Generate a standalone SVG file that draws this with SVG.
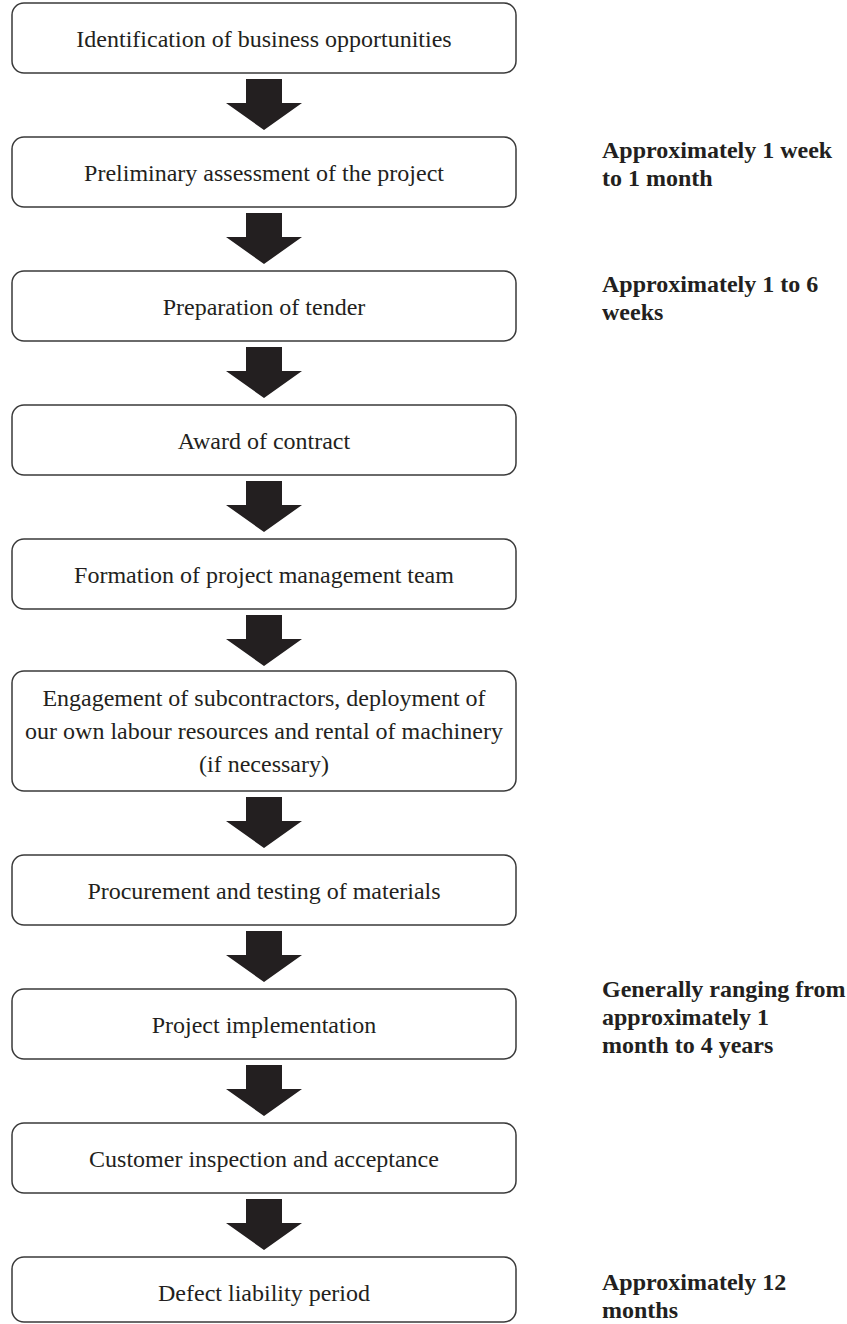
<svg xmlns="http://www.w3.org/2000/svg" width="847" height="1324" viewBox="0 0 847 1324">
<style>
.box{fill:#fff;stroke:#3a3a3a;stroke-width:1.5}
.t{font-family:"Liberation Serif","Times New Roman",serif;font-size:24px;fill:#231f20;text-anchor:middle}
.l{font-family:"Liberation Serif","Times New Roman",serif;font-size:24px;font-weight:bold;fill:#231f20}
.arr{fill:#231f20}
</style>
<defs>
<path id="a" d="M246,0 H282 V24 H302 L264,51 L226,24 H246 Z"/>
</defs>
<rect width="847" height="1324" fill="#fff"/>
<g id="n1"><rect class="box" x="12" y="3" width="504" height="70" rx="12"/><text class="t" x="264" y="47">Identification of business opportunities</text></g>
<g id="n2"><rect class="box" x="12" y="137" width="504" height="70" rx="12"/><text class="t" x="264" y="181">Preliminary assessment of the project</text></g>
<g id="n3"><rect class="box" x="12" y="271" width="504" height="70" rx="12"/><text class="t" x="264" y="315">Preparation of tender</text></g>
<g id="n4"><rect class="box" x="12" y="405" width="504" height="70" rx="12"/><text class="t" x="264" y="449">Award of contract</text></g>
<g id="n5"><rect class="box" x="12" y="539" width="504" height="70" rx="12"/><text class="t" x="264" y="583">Formation of project management team</text></g>
<g id="n6"><rect class="box" x="12" y="671" width="504" height="120" rx="12"/><text class="t" x="264" y="706">Engagement of subcontractors, deployment of</text><text class="t" x="264" y="739">our own labour resources and rental of machinery</text><text class="t" x="264" y="772">(if necessary)</text></g>
<g id="n7"><rect class="box" x="12" y="855" width="504" height="70" rx="12"/><text class="t" x="264" y="899">Procurement and testing of materials</text></g>
<g id="n8"><rect class="box" x="12" y="989" width="504" height="70" rx="12"/><text class="t" x="264" y="1033">Project implementation</text></g>
<g id="n9"><rect class="box" x="12" y="1123" width="504" height="70" rx="12"/><text class="t" x="264" y="1167">Customer inspection and acceptance</text></g>
<g id="n10"><rect class="box" x="12" y="1257" width="504" height="65" rx="12"/><text class="t" x="264" y="1301">Defect liability period</text></g>
<g id="connectors" class="arr">
<use href="#a" x="0" y="79"/>
<use href="#a" x="0" y="213"/>
<use href="#a" x="0" y="347"/>
<use href="#a" x="0" y="481"/>
<use href="#a" x="0" y="615"/>
<use href="#a" x="0" y="797"/>
<use href="#a" x="0" y="931"/>
<use href="#a" x="0" y="1065"/>
<use href="#a" x="0" y="1199"/>
</g>
<g id="labels">
<text class="l" x="602" y="158">Approximately 1 week</text>
<text class="l" x="602" y="186">to 1 month</text>
<text class="l" x="602" y="292">Approximately 1 to 6</text>
<text class="l" x="602" y="320">weeks</text>
<text class="l" x="602" y="997">Generally ranging from</text>
<text class="l" x="602" y="1025">approximately 1</text>
<text class="l" x="602" y="1053">month to 4 years</text>
<text class="l" x="602" y="1290">Approximately 12</text>
<text class="l" x="602" y="1318">months</text>
</g>
</svg>
